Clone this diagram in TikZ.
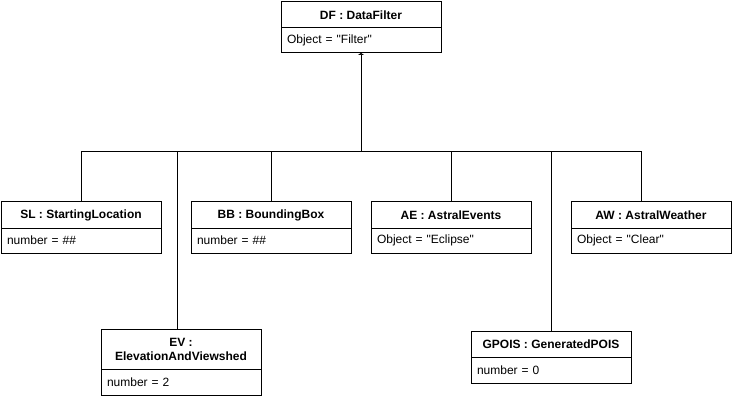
\documentclass[tikz,border=0pt]{standalone}
\usepackage{fontspec}
\setmainfont{Liberation Sans}
\usetikzlibrary{positioning,arrows.meta}
\tikzset{>={Triangle[width=6pt,length=2pt]}}
\newcommand{\qt}[1]{\textquotedbl#1\textquotedbl}
\tikzset{
  objhead/.style={draw,line width=1pt,minimum width=160,minimum height=26,outer sep=0,
    inner sep=0,font=\fontsize{12}{14}\selectfont\bfseries,align=center},
  objattr/.style={draw,line width=1pt,minimum width=160,minimum height=26,outer sep=0,
    text width=148,inner xsep=6,inner ysep=0,font=\fontsize{12}{14}\selectfont,align=left},
  link/.style={line width=1pt}
}

\begin{document}
\begin{tikzpicture}[x=1pt,y=-1pt]
  \useasboundingbox (0,0) rectangle (734,401);
  \node[objhead] (dfh) at (361,15) {DF : DataFilter};
  \node[objattr,minimum height=25,below=0 of dfh] (dfa) {Object = \qt{Filter}};

  \node[objhead] (slh) at (81,215) {SL : StartingLocation};
  \node[objattr,minimum height=25,below=0 of slh] (sla) {number = \#\#};
  \node[objhead] (bbh) at (271,215) {BB : BoundingBox};
  \node[objattr,minimum height=25,below=0 of bbh] (bba) {number = \#\#};
  \node[objhead] (aeh) at (451,215) {AE : AstralEvents};
  \node[objattr,minimum height=25,below=0 of aeh] (aea) {Object = \qt{Eclipse}};
  \node[objhead] (awh) at (651,215) {AW : AstralWeather};
  \node[objattr,minimum height=25,below=0 of awh] (awa) {Object = \qt{Clear}};

  \node[objhead,minimum height=40] (evh) at (181,349) {EV :\\ElevationAndViewshed};
  \node[objattr,below=0 of evh] (eva) {number = 2};
  \node[objhead] (gph) at (551,344) {GPOIS : GeneratedPOIS};
  \node[objattr,below=0 of gph] (gpa) {number = 0};

  \coordinate (bus) at (361,152);
  \draw[link,->] (bus) -- (dfa.south);
  \draw[link] (slh.north) |- (bus);
  \draw[link] ([xshift=-4]evh.north) |- (bus);
  \draw[link] (bbh.north) |- (bus);
  \draw[link] (aeh.north) |- (bus);
  \draw[link] (gph.north) |- (bus);
  \draw[link] ([xshift=-10]awh.north) |- (bus);
\end{tikzpicture}
\end{document}
